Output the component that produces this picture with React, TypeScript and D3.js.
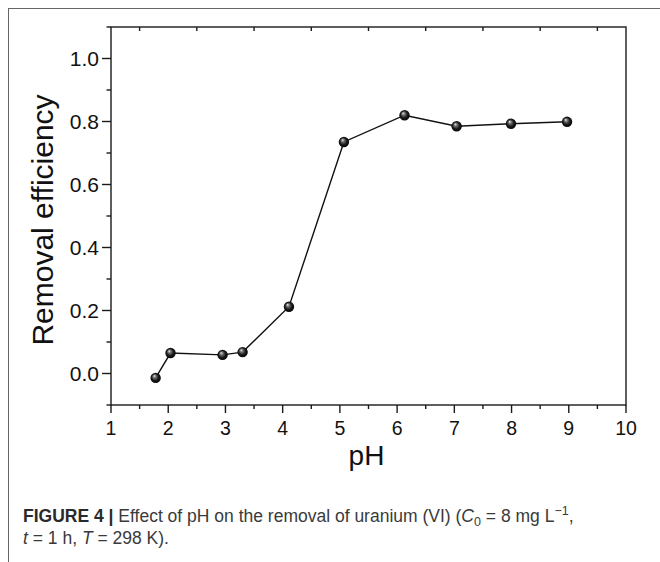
import React from "react";
import * as d3 from "d3";

// pH vs. removal efficiency of uranium (VI)
const phValues = [1.78, 2.04, 2.95, 3.3, 4.11, 5.07, 6.13, 7.04, 7.99, 8.97];
const efficiency = [-0.014, 0.065, 0.059, 0.068, 0.212, 0.735, 0.82, 0.785, 0.793, 0.799];
const xTicks = [1, 2, 3, 4, 5, 6, 7, 8, 9, 10];
const xMinorTicks = [1.5, 2.5, 3.5, 4.5, 5.5, 6.5, 7.5, 8.5, 9.5];
const yTicks = [0, 0.2, 0.4, 0.6, 0.8, 1.0];
const yMinorTicks = [-0.1, 0.1, 0.3, 0.5, 0.7, 0.9, 1.1];

const W = 660;
const H = 562;
const plot = { left: 111, right: 626, top: 27, bottom: 405 };

export default function App() {
  const x = d3.scaleLinear().domain([1, 10]).range([plot.left, plot.right]);
  const y = d3.scaleLinear().domain([-0.1, 1.1]).range([plot.bottom, plot.top]);
  const points = phValues.map((p, i) => [p, efficiency[i]] as [number, number]);
  const line = d3
    .line<[number, number]>()
    .x((d) => x(d[0]))
    .y((d) => y(d[1]))(points);

  const axisColor = "#1a1a1a";
  const font = "'Liberation Sans', Arial, sans-serif";

  return (
    <svg
      width={W}
      height={H}
      style={{ position: "absolute", left: 0, top: 0, background: "#fff" }}
      fontFamily={font}
    >
      <defs>
        <radialGradient id="ball" cx="0.5" cy="0.5" r="0.55" fx="0.36" fy="0.3">
          <stop offset="0" stopColor="#f2f2f2" />
          <stop offset="0.25" stopColor="#777" />
          <stop offset="0.6" stopColor="#1c1c1c" />
          <stop offset="1" stopColor="#000" />
        </radialGradient>
      </defs>

      {/* figure panel border */}
      <line x1={8} y1={8.5} x2={W} y2={8.5} stroke="#666" strokeWidth={1} />
      <line x1={8.5} y1={8} x2={8.5} y2={H} stroke="#666" strokeWidth={1} />

      {/* plot frame */}
      <rect
        x={plot.left}
        y={plot.top}
        width={plot.right - plot.left}
        height={plot.bottom - plot.top}
        fill="none"
        stroke={axisColor}
        strokeWidth={1.4}
      />

      {/* bottom axis ticks */}
      {xTicks.map((t) => (
        <g key={`xt${t}`}>
          <line x1={x(t)} x2={x(t)} y1={plot.bottom} y2={plot.bottom + 8} stroke={axisColor} strokeWidth={1.4} />
          <text x={x(t)} y={plot.bottom + 30} fontSize={19.5} textAnchor="middle" fill="#111">
            {t}
          </text>
        </g>
      ))}
      {xMinorTicks.map((t) => (
        <g key={`xm${t}`}>
          <line x1={x(t)} x2={x(t)} y1={plot.bottom} y2={plot.bottom + 4} stroke={axisColor} strokeWidth={1.4} />
          <line x1={x(t)} x2={x(t)} y1={plot.top} y2={plot.top + 4} stroke={axisColor} strokeWidth={1.4} />
        </g>
      ))}

      {/* left axis ticks */}
      {yTicks.map((t) => (
        <g key={`yt${t}`}>
          <line x1={plot.left - 9} x2={plot.left} y1={y(t)} y2={y(t)} stroke={axisColor} strokeWidth={1.4} />
          <text x={plot.left - 12} y={y(t)} dy="0.36em" fontSize={21} textAnchor="end" fill="#111">
            {d3.format(".1f")(t)}
          </text>
        </g>
      ))}
      {yMinorTicks.map((t) => (
        <line key={`ym${t}`} x1={plot.left - 4.5} x2={plot.left} y1={y(t)} y2={y(t)} stroke={axisColor} strokeWidth={1.4} />
      ))}

      {/* axis titles */}
      <text
        transform={`translate(53, ${(plot.top + plot.bottom) / 2 + 4}) rotate(-90)`}
        fontSize={30}
        textAnchor="middle"
        fill="#111"
      >
        Removal efficiency
      </text>
      <text x={(plot.left + plot.right) / 2 - 2} y={465} fontSize={28} textAnchor="middle" fill="#111">
        pH
      </text>

      {/* data */}
      <path d={line ?? ""} fill="none" stroke="#111" strokeWidth={1.4} />
      {points.map((d, i) => (
        <circle key={i} cx={x(d[0])} cy={y(d[1])} r={5.2} fill="url(#ball)" />
      ))}

      {/* caption */}
      <text x={23} y={522} fontSize={17.5} fill="#3a3a3a" fontFamily="'Liberation Sans', Arial, sans-serif">
        <tspan fontWeight="bold" fill="#2a2a2a">FIGURE 4 | </tspan>
        <tspan>Effect of pH on the removal of uranium (VI) (</tspan>
        <tspan fontStyle="italic">C</tspan>
        <tspan fontSize={12.5} dy={4}>0</tspan>
        <tspan dy={-4}> = 8 mg L</tspan>
        <tspan fontSize={12.5} dy={-7}>−1</tspan>
        <tspan dy={7}>,</tspan>
      </text>
      <text x={23} y={544} fontSize={17.5} fill="#3a3a3a">
        <tspan fontStyle="italic">t</tspan>
        <tspan> = 1 h, </tspan>
        <tspan fontStyle="italic">T</tspan>
        <tspan> = 298 K).</tspan>
      </text>
    </svg>
  );
}
